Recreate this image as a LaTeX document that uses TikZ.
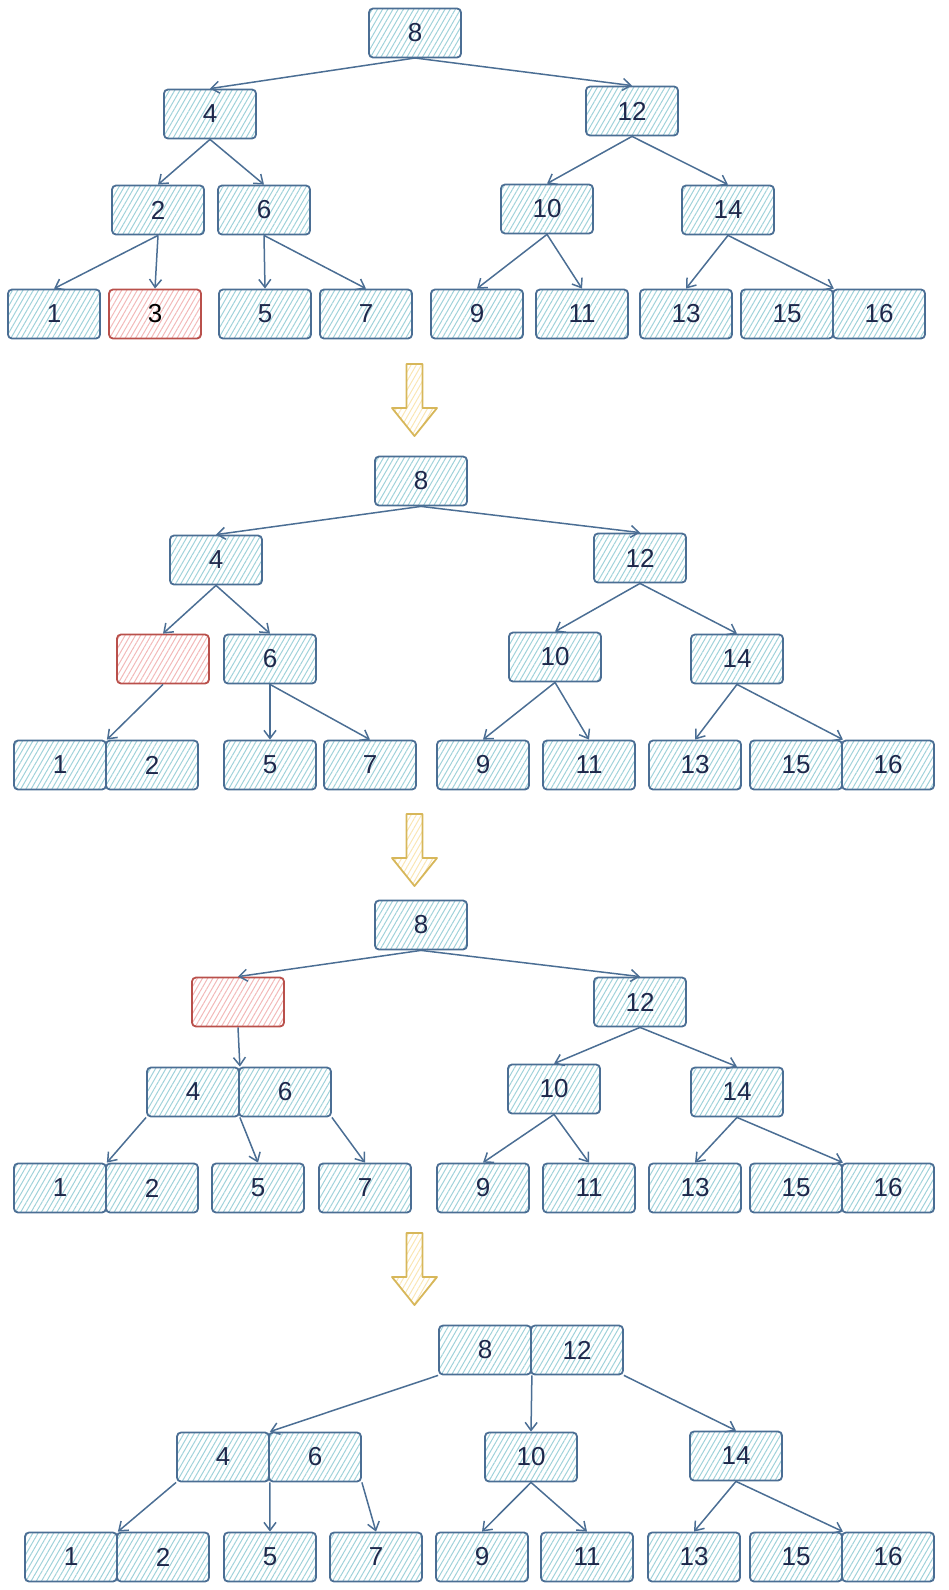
\documentclass[tikz,border=0pt]{standalone}
\usepackage{fontspec}
\setmainfont{Liberation Sans}
\usetikzlibrary{arrows.meta,patterns.meta}
\definecolor{boxline}{RGB}{75,110,148}
\definecolor{hatch}{RGB}{160,210,218}
\definecolor{keytext}{RGB}{30,40,75}
\definecolor{redline}{RGB}{185,80,75}
\definecolor{redhatch}{RGB}{242,185,185}
\definecolor{goldline}{RGB}{215,183,90}
\definecolor{goldhatch}{RGB}{250,230,180}

\begin{document}
\begin{tikzpicture}[x=1pt,y=-1pt,
    key/.style={draw=boxline,line width=1.8pt,rounded corners=4pt,minimum width=92pt,minimum height=49pt,inner sep=0pt,
        pattern={Lines[angle=60,distance=4.5pt,line width=1pt]},pattern color=hatch,text=keytext,font=\fontsize{26}{30}\selectfont},
    gone/.style={key,draw=redline,pattern color=redhatch},
    link/.style={draw=boxline,line width=1.5pt,-{Straight Barb[length=8pt,width=12pt]}}]
\useasboundingbox (0,0) rectangle (948,1590);

% step 1
\node[key] (a8) at (415,33) {8};
\node[key] (a4) at (210,114) {4};
\node[key] (a12) at (632,111) {12};
\node[key] (a2) at (158,210) {2};
\node[key] (a6) at (264,210) {6};
\node[key] (a10) at (547,209) {10};
\node[key] (a14) at (728,210) {14};
\foreach \v/\x in {1/54,5/265,7/366,9/477,11/582,13/686,15/787,16/879}
    \node[key] (a\v) at (\x,314) {\v};
\node[gone,text=black] (a3) at (155,314) {3};
\foreach \p/\c in {8/4,8/12,4/2,4/6,2/1,2/3,6/5,6/7,12/10,12/14,10/9,10/11,14/13}
    \draw[link] (a\p.south) -- (a\c.north);
\draw[link] (a14.south) -- (a15.north east);

% step 2
\node[key] (b8) at (421,481) {8};
\node[key] (b4) at (216,560) {4};
\node[key] (b12) at (640,558) {12};
\node[gone] (bx) at (163,659) {};
\node[key] (b6) at (270,659) {6};
\node[key] (b10) at (555,657) {10};
\node[key] (b14) at (737,659) {14};
\foreach \v/\x in {1/60,2/152,5/270,7/370,9/483,11/589,13/695,15/796,16/888}
    \node[key] (b\v) at (\x,765) {\v};
\foreach \p/\c in {8/4,8/12,4/x,4/6,6/5,6/7,12/10,12/14,10/9,10/11,14/13}
    \draw[link] (b\p.south) -- (b\c.north);
\draw[link] (bx.south) -- (b1.north east);
\draw[link] (b14.south) -- (b15.north east);

% step 3
\node[key] (c8) at (421,925) {8};
\node[gone] (cx) at (238,1002) {};
\node[key] (c12) at (640,1002) {12};
\node[key] (c4) at (193,1092) {4};
\node[key] (c6) at (285,1092) {6};
\node[key] (c10) at (554,1089) {10};
\node[key] (c14) at (737,1092) {14};
\foreach \v/\x in {1/60,2/152,5/258,7/365,9/483,11/589,13/695,15/796,16/888}
    \node[key] (c\v) at (\x,1188) {\v};
\foreach \p/\c in {8/x,8/12,12/10,12/14,10/9,10/11,14/13}
    \draw[link] (c\p.south) -- (c\c.north);
\draw[link] (cx.south) -- (c4.north east);
\draw[link] (c4.south west) -- (c1.north east);
\draw[link] (c4.south east) -- (c5.north);
\draw[link] (c6.south east) -- (c7.north);
\draw[link] (c14.south) -- (c15.north east);

% step 4
\node[key] (d8) at (485,1350) {8};
\node[key] (d12) at (577,1350) {12};
\node[key] (d4) at (223,1457) {4};
\node[key] (d6) at (315,1457) {6};
\node[key] (d10) at (531,1457) {10};
\node[key] (d14) at (736,1456) {14};
\foreach \v/\x in {1/71,2/163,5/270,7/376,9/482,11/587,13/694,15/796,16/888}
    \node[key] (d\v) at (\x,1557) {\v};
\draw[link] (d8.south west) -- (d4.north east);
\draw[link] (d8.south east) -- (d10.north);
\draw[link] (d12.south east) -- (d14.north);
\draw[link] (d4.south west) -- (d1.north east);
\draw[link] (d4.south east) -- (d5.north);
\draw[link] (d6.south east) -- (d7.north);
\foreach \p/\c in {10/9,10/11,14/13}
    \draw[link] (d\p.south) -- (d\c.north);
\draw[link] (d14.south) -- (d15.north east);

% big arrows
\foreach \dy in {364,814,1233}
    \draw[goldline,line width=1.8pt,line join=round,pattern={Lines[angle=60,distance=4.5pt,line width=1pt]},pattern color=goldhatch]
        (406.5,\dy) -- (422.5,\dy) -- (422.5,\dy+44) -- (437,\dy+44) -- (414.5,\dy+72)
        -- (392,\dy+44) -- (406.5,\dy+44) -- cycle;
\end{tikzpicture}
\end{document}
